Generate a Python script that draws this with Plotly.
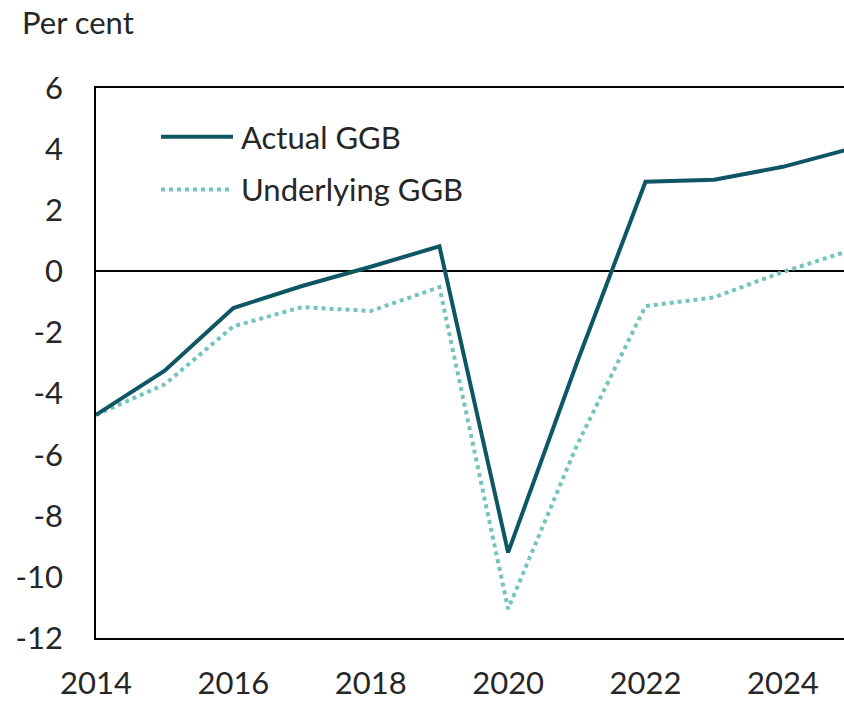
import plotly.graph_objects as go

years = [2014, 2015, 2016, 2017, 2018, 2019, 2020, 2021, 2022, 2023, 2024, 2025]
actual_ggb = [-4.7, -3.25, -1.2, -0.48, 0.15, 0.82, -9.2, -3.0, 2.93, 3.0, 3.42, 4.02]
underlying_ggb = [-4.7, -3.7, -1.8, -1.17, -1.3, -0.52, -11.05, -5.7, -1.14, -0.85, -0.02, 0.7]
y_ticks = [6, 4, 2, 0, -2, -4, -6, -8, -10, -12]
x_ticks = [2014, 2016, 2018, 2020, 2022, 2024]

FONT = "Lato"
TXT = "#262626"
DARK = "#0f5664"
LIGHT = "#74c3bf"
FS = 31

fig = go.Figure()
fig.add_trace(go.Scatter(x=years, y=underlying_ggb, mode="lines", name="Underlying GGB",
                         line=dict(color=LIGHT, width=4, dash="dot")))
fig.add_trace(go.Scatter(x=years, y=actual_ggb, mode="lines", name="Actual GGB",
                         line=dict(color=DARK, width=4)))

fig.update_layout(
    width=844, height=701,
    margin=dict(l=96, r=0, t=88, b=60),
    paper_bgcolor="white", plot_bgcolor="white",
    showlegend=False,
    font=dict(family=FONT, size=FS, color=TXT),
    xaxis=dict(range=[2014, 2024.89], tickvals=x_ticks, ticktext=[str(v) for v in x_ticks],
               showgrid=False, zeroline=False, showline=True, linecolor="black", linewidth=1.5,
               mirror=True, ticks="", ticklabelstandoff=17),
    yaxis=dict(range=[-12, 6], tickvals=y_ticks, ticktext=[str(v) for v in y_ticks],
               showgrid=False, zeroline=True, zerolinecolor="black", zerolinewidth=1.5,
               showline=True, linecolor="black", linewidth=1.5, ticks="", ticklabelstandoff=25),
)

# Legend drawn manually (long line samples like the original)
fig.add_shape(type="line", xref="paper", yref="paper",
              x0=(161 - 96) / 748, x1=(233 - 96) / 748,
              y0=(641 - 137) / 553, y1=(641 - 137) / 553,
              line=dict(color=DARK, width=4))
fig.add_shape(type="line", xref="paper", yref="paper",
              x0=(161 - 96) / 748, x1=(230 - 96) / 748,
              y0=(641 - 190) / 553, y1=(641 - 190) / 553,
              line=dict(color=LIGHT, width=4, dash="dot"))
fig.add_annotation(text="Actual GGB", xref="paper", yref="paper",
                   x=(239 - 96) / 748, y=(641 - 137) / 553, xanchor="left", yanchor="middle",
                   showarrow=False, font=dict(family=FONT, size=FS, color=TXT))
fig.add_annotation(text="Underlying GGB", xref="paper", yref="paper",
                   x=(239 - 96) / 748, y=(641 - 190) / 553, xanchor="left", yanchor="middle",
                   showarrow=False, font=dict(family=FONT, size=FS, color=TXT))
fig.add_annotation(text="Per cent", xref="paper", yref="paper",
                   x=(20 - 96) / 748, y=(641 - 22) / 553, xanchor="left", yanchor="middle",
                   showarrow=False, font=dict(family=FONT, size=FS, color=TXT))

fig.write_html("out.html", config={"displayModeBar": False},
               post_script="document.body.style.margin='0px';")
